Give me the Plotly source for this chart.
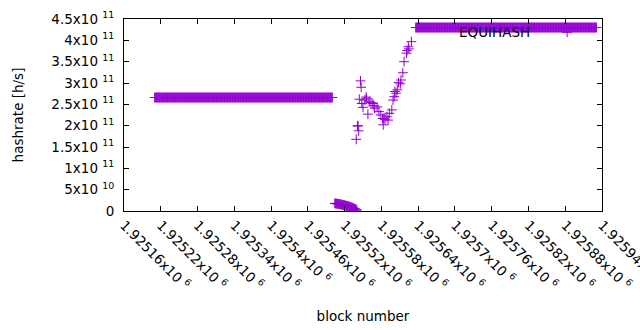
import plotly.graph_objects as go

# ---- data ----
# flat section before the change (one point per block)
flat1_blocks = list(range(1925210, 1925501))
flat1_rate = [2.66e11] * len(flat1_blocks)

# low cluster right after the change
low_blocks = list(range(1925504, 1925541))
low_rate = [1.80e10, 1.77e10, 1.75e10, 1.73e10, 1.70e10, 1.68e10, 1.66e10,
            1.63e10, 1.60e10, 1.57e10, 1.54e10, 1.50e10, 1.47e10, 1.44e10, 1.40e10,
            1.37e10, 1.33e10, 1.30e10, 1.26e10, 1.22e10, 1.18e10, 1.14e10, 1.10e10,
            1.06e10, 1.01e10, 0.96e10, 0.91e10, 0.86e10, 0.80e10, 0.74e10, 0.68e10,
            0.61e10, 0.54e10, 0.46e10, 0.38e10, 0.30e10, 0.20e10]

# scattered recovery section
mid_blocks = [1925539, 1925541, 1925542, 1925543, 1925544, 1925546, 1925547, 1925548,
              1925550, 1925553, 1925555, 1925556, 1925558, 1925560, 1925563, 1925566,
              1925568, 1925569, 1925573, 1925576, 1925579, 1925582, 1925583, 1925584,
              1925586, 1925589, 1925591, 1925593, 1925597, 1925599, 1925601, 1925602,
              1925604, 1925606, 1925608, 1925611, 1925612, 1925615, 1925617, 1925621,
              1925622, 1925624, 1925625, 1925629]
mid_rate = [1.68e11, 1.99e11, 2.00e11, 1.88e11, 2.62e11, 3.05e11, 2.90e11, 2.52e11,
            2.43e11, 2.60e11, 2.67e11, 2.63e11, 2.27e11, 2.56e11, 2.54e11, 2.52e11,
            2.47e11, 2.41e11, 2.44e11, 2.33e11, 2.25e11, 2.17e11, 2.02e11, 2.17e11,
            2.15e11, 2.21e11, 2.13e11, 2.29e11, 2.37e11, 2.60e11, 2.68e11, 2.80e11,
            2.76e11, 2.84e11, 3.01e11, 2.98e11, 3.07e11, 3.24e11, 3.50e11, 3.70e11,
            3.76e11, 3.85e11, 3.80e11, 3.97e11]

# flat section after recovery
flat2_blocks = list(range(1925636, 1925932))
flat2_rate = [4.30e11] * len(flat2_blocks)

x_tickvals = [1925160, 1925220, 1925280, 1925340, 1925400, 1925460, 1925520,
              1925580, 1925640, 1925700, 1925760, 1925820, 1925880, 1925940]
x_ticktext = ["1.92516", "1.92522", "1.92528", "1.92534", "1.9254", "1.92546", "1.92552",
              "1.92558", "1.92564", "1.9257", "1.92576", "1.92582", "1.92588", "1.92594"]
y_tickvals = [0, 5e10, 1e11, 1.5e11, 2e11, 2.5e11, 3e11, 3.5e11, 4e11, 4.5e11]
y_ticktext = ["0", "5x10 <sup>10</sup>", "1x10 <sup>11</sup>", "1.5x10 <sup>11</sup>",
              "2x10 <sup>11</sup>", "2.5x10 <sup>11</sup>", "3x10 <sup>11</sup>",
              "3.5x10 <sup>11</sup>", "4x10 <sup>11</sup>", "4.5x10 <sup>11</sup>"]

series_name = "EQUIHASH"
color = "#9400d3"

blocks = flat1_blocks + low_blocks + mid_blocks + flat2_blocks
rates = flat1_rate + low_rate + mid_rate + flat2_rate

font_family = "DejaVu Sans"
fs = 13.5

marker_style = dict(symbol="cross-thin", size=7, line=dict(color=color, width=1), color=color)

fig = go.Figure()
fig.add_trace(go.Scatter(
    x=blocks, y=rates, mode="markers", name=series_name,
    marker=marker_style, showlegend=False,
))

axis_common = dict(
    showline=True, linecolor="black", linewidth=1, mirror="ticks",
    ticks="inside", ticklen=5, tickcolor="black", tickwidth=1,
    showgrid=False, zeroline=False, automargin=False,
    ticklabeloverflow="allow",
    tickfont=dict(family=font_family, size=fs, color="black"),
)

fig.update_layout(
    width=640, height=330,
    margin=dict(l=124, r=38, t=19, b=119),
    paper_bgcolor="white", plot_bgcolor="white",
    font=dict(family=font_family, size=fs, color="black"),
    xaxis=dict(
        range=[1925160, 1925940.05],
        tickmode="array", tickvals=x_tickvals,
        ticktext=[t + "x10 <sup>6</sup>" for t in x_ticktext],
        tickangle=45,
        title=dict(text="block number", font=dict(family=font_family, size=fs), standoff=19),
        **axis_common,
    ),
    yaxis=dict(
        range=[0, 4.5e11],
        tickmode="array", tickvals=y_tickvals, ticktext=y_ticktext,
        ticklabelstandoff=6,
        title=dict(text="hashrate [h/s]", font=dict(family=font_family, size=fs), standoff=24),
        **axis_common,
    ),
    annotations=[
        dict(text=series_name, xref="paper", yref="paper", x=0.854, y=0.931,
             xanchor="right", yanchor="middle", showarrow=False,
             font=dict(family=font_family, size=fs, color="black")),
    ],
)

# legend sample marker placed in paper-like coordinates via a hidden axis pair
fig.add_trace(go.Scatter(
    x=[0.927], y=[0.931], mode="markers", xaxis="x2", yaxis="y2", showlegend=False,
    marker=marker_style, hoverinfo="skip",
))
fig.update_layout(
    xaxis2=dict(overlaying="x", range=[0, 1], visible=False),
    yaxis2=dict(overlaying="y", range=[0, 1], visible=False),
)

fig.write_html(
    "out.html",
    config={"displayModeBar": False},
    post_script="document.body.style.margin='0';document.body.style.overflow='hidden';",
)
